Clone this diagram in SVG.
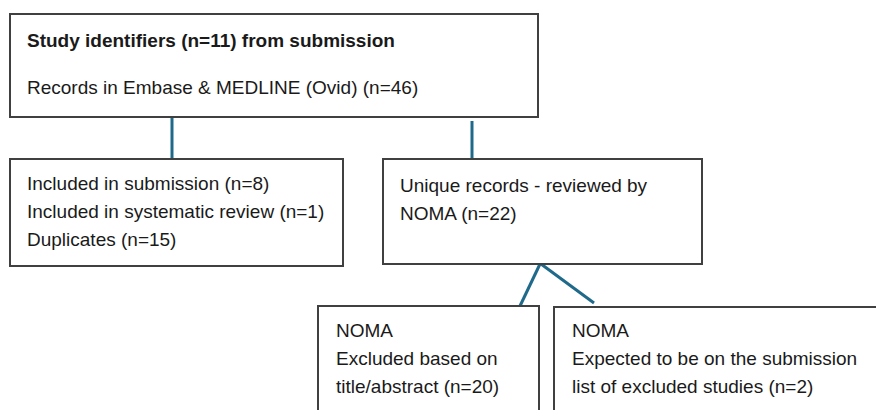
<svg xmlns="http://www.w3.org/2000/svg" width="876" height="410" viewBox="0 0 876 410">
<style>
.box{fill:#fff;stroke:#404040;stroke-width:2}
.t{font-family:"Liberation Sans",Arial,sans-serif;font-size:19px;fill:#1a1a1a}
.b{font-weight:bold}
.c{stroke:#1f6a8a;stroke-width:3;fill:none}
</style>
<rect width="876" height="410" fill="#fff"/>
<g id="connectors">
<line class="c" x1="172" y1="117" x2="172" y2="159"/>
<line class="c" x1="472" y1="121" x2="472" y2="159"/>
<line class="c" x1="540" y1="264" x2="520" y2="306"/>
<line class="c" x1="541" y1="264" x2="594" y2="303"/>
</g>
<g id="source">
<rect class="box" x="10" y="14" width="528" height="103"/>
<text class="t b" x="27" y="47">Study identifiers (n=11) from submission</text>
<text class="t" x="27" y="94">Records in Embase &amp; MEDLINE (Ovid) (n=46)</text>
</g>
<g id="included">
<rect class="box" x="10" y="159" width="333" height="107"/>
<text class="t" x="27" y="190">Included in submission (n=8)</text>
<text class="t" x="27" y="218">Included in systematic review (n=1)</text>
<text class="t" x="27" y="246">Duplicates (n=15)</text>
</g>
<g id="unique">
<rect class="box" x="383" y="159" width="319" height="105"/>
<text class="t" x="400" y="192">Unique records - reviewed by</text>
<text class="t" x="400" y="220">NOMA (n=22)</text>
</g>
<g id="excluded">
<rect class="box" x="318" y="306" width="221" height="120"/>
<text class="t" x="336" y="337">NOMA</text>
<text class="t" x="336" y="365">Excluded based on</text>
<text class="t" x="336" y="393">title/abstract (n=20)</text>
</g>
<g id="expected">
<rect class="box" x="554" y="307" width="340" height="120"/>
<text class="t" x="572" y="337">NOMA</text>
<text class="t" x="572" y="365">Expected to be on the submission</text>
<text class="t" x="572" y="393">list of excluded studies (n=2)</text>
</g>
</svg>
